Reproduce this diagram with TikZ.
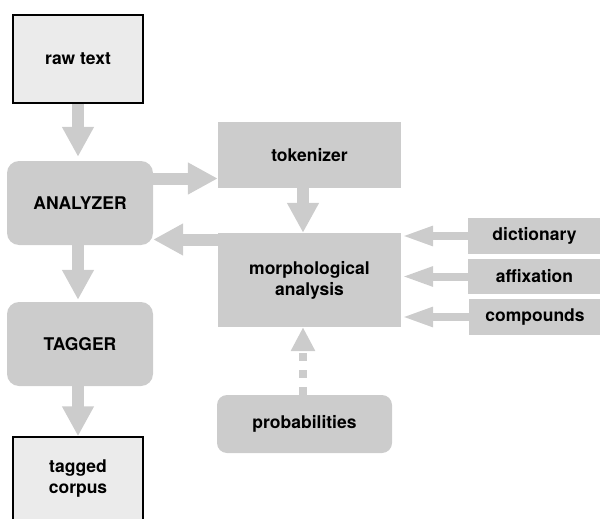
\documentclass[tikz,border=0pt]{standalone}
\usepackage{fontspec}
\setmainfont{TeX Gyre Heros}
\usetikzlibrary{arrows.meta,calc}
\definecolor{boxgray}{RGB}{204,204,204}
\definecolor{lightbox}{RGB}{235,235,235}
\begin{document}
\begin{tikzpicture}[x=1pt,y=-1pt,
 every node/.style={font=\fontsize{17.5}{21}\selectfont\bfseries, align=center, inner sep=0pt},
 plainbox/.style={rectangle, fill=lightbox, draw=black, line width=1.5pt},
 graybox/.style={rectangle, fill=boxgray},
 roundbox/.style={rectangle, fill=boxgray, rounded corners=12pt},
 bigarrow/.style={draw=boxgray, line width=12pt, -{Triangle[length=30pt,width=30pt]}},
 sidearrow/.style={draw=boxgray, line width=8pt, -{Triangle[length=32pt,width=18pt]}},
 dasharrow/.style={draw=boxgray, line width=8pt, dash pattern=on 8pt off 9pt, -{Triangle[length=24pt,width=23pt]}}]
\useasboundingbox (0,0) rectangle (600,519);
\clip (0,0) rectangle (600,519);
\node[plainbox, minimum width=130pt, minimum height=88pt] (raw) at (78,59) {raw text};
\node[roundbox, minimum width=146pt, minimum height=84pt] (ana) at (80,203) {ANALYZER};
\node[roundbox, minimum width=146pt, minimum height=84pt] (tag) at (80,344) {TAGGER};
\node[plainbox, minimum width=130pt, minimum height=84pt] (corp) at (78,479) {tagged\\corpus};
\node[graybox, minimum width=183pt, minimum height=66pt] (tok) at (309.5,155) {tokenizer};
\node[graybox, minimum width=183pt, minimum height=94pt] (mor) at (309.5,280) {morphological\\analysis};
\node[graybox, minimum width=133pt, minimum height=36pt] (dic) at (534.5,236) {dictionary};
\node[graybox, minimum width=133pt, minimum height=35pt] (aff) at (534.5,276.5) {affixation};
\node[graybox, minimum width=132pt, minimum height=36pt] (com) at (535,317) {compounds};
\node[roundbox, rounded corners=10pt, minimum width=175pt, minimum height=58pt] (prob) at (304.5,424) {probabilities};
% connectors
\coordinate (a1) at ($(ana.north)+(0,-4)$);
\draw[bigarrow] (raw.south) -- (raw.south |- a1);
\coordinate (a6) at ($(tag.north)+(0,-2)$);
\draw[bigarrow] (raw.south |- ana.south) -- (raw.south |- a6);
\draw[bigarrow] (raw.south |- tag.south) -- (corp.north);
\coordinate (a2) at ($(ana.east)+(0,-24.5)$);
\draw[bigarrow] (a2) -- (a2 -| tok.west);
\coordinate (a3) at ($(tok.south)+(-6.5,0)$);
\draw[bigarrow] (a3) -- (a3 |- mor.north);
\coordinate (a4) at ($(mor.west)+(0,-40.5)$);
\draw[bigarrow] (a4) -- (a4 -| ana.east);
\draw[sidearrow] (dic.west) -- (dic.west -| mor.east);
\draw[sidearrow] (aff.west) -- (aff.west -| mor.east);
\draw[sidearrow] (com.west) -- (com.west -| mor.east);
\coordinate (a5) at (prob.north -| a3);
\draw[dasharrow] (a5) -- (a5 |- mor.south);
\end{tikzpicture}
\end{document}
